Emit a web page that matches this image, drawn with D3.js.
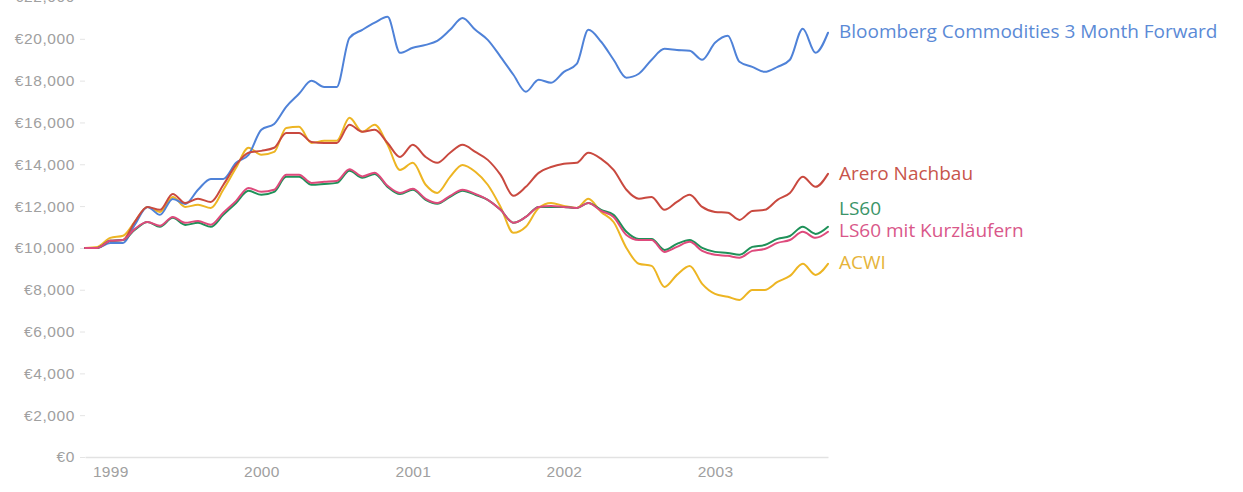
<!DOCTYPE html>
<html>
<head>
<meta charset="utf-8">
<script src="https://cdn.jsdelivr.net/npm/d3@7"></script>
<style>
  body { margin: 0; background: #fff; }
  svg { display: block; font-family: "Open Sans", "Inter", sans-serif; }
</style>
</head>
<body>
<svg id="chart" width="1243" height="492"></svg>
<script>
// monthly values, Nov 1998 .. Oct 2003
var startMonth = new Date(1998, 10, 1);
var monthCount = 60;

var bloomberg = [10000, 10000, 10240, 10240, 11100, 11960, 11580, 12345, 12100, 12780,
  13300, 13300, 14070, 14450, 15650, 15930, 16750, 17370, 17990, 17700,
  17700, 20050, 20430, 20770, 21050, 19330, 19570, 19710, 19900, 20430,
  21000, 20430, 19950, 19140, 18280, 17470, 18040, 17900, 18420, 18800,
  20430, 19860, 19000, 18140, 18330, 19000, 19520, 19470, 19430, 19000,
  19810, 20150, 18900, 18660, 18420, 18660, 19000, 20480, 19330, 20290];

var arero = [10000, 10000, 10340, 10380, 11240, 11960, 11820, 12580, 12150, 12350,
  12200, 13010, 13970, 14550, 14640, 14790, 15500, 15500, 15070, 15020,
  15020, 15890, 15550, 15650, 15020, 14350, 14930, 14350, 14070, 14550,
  14930, 14590, 14210, 13490, 12490, 12920, 13590, 13870, 14020, 14070,
  14550, 14260, 13730, 12780, 12350, 12440, 11820, 12200, 12540, 11960,
  11720, 11680, 11340, 11770, 11820, 12300, 12630, 13400, 12920, 13540];

var ls60 = [10000, 10000, 10340, 10380, 10860, 11240, 11010, 11440, 11100, 11200,
  11010, 11580, 12150, 12730, 12540, 12680, 13400, 13400, 13020, 13060,
  13110, 13690, 13350, 13540, 12920, 12580, 12780, 12300, 12110, 12440,
  12730, 12540, 12300, 11820, 11200, 11480, 11960, 11960, 11960, 11910,
  12150, 11820, 11580, 10770, 10430, 10430, 9900, 10190, 10380, 10000,
  9810, 9760, 9670, 10050, 10140, 10430, 10570, 11010, 10670, 11010];

var ls60kurz = [10000, 10000, 10340, 10380, 10900, 11240, 11060, 11480, 11200, 11290,
  11110, 11680, 12250, 12870, 12680, 12780, 13500, 13500, 13110, 13160,
  13200, 13760, 13420, 13600, 12970, 12630, 12830, 12350, 12150, 12490,
  12780, 12580, 12300, 11820, 11200, 11480, 11960, 12010, 11960, 11910,
  12150, 11770, 11480, 10620, 10380, 10380, 9810, 10050, 10290, 9860,
  9670, 9620, 9530, 9860, 9950, 10240, 10380, 10770, 10480, 10770];

var acwi = [10000, 10050, 10480, 10580, 11240, 11960, 11720, 12440, 11960, 12060,
  11910, 12780, 13830, 14790, 14450, 14590, 15740, 15790, 15020, 15120,
  15120, 16220, 15550, 15890, 14930, 13730, 14070, 13020, 12630, 13400,
  13970, 13640, 13020, 11960, 10720, 11010, 11910, 12150, 12010, 11910,
  12350, 11720, 11240, 10000, 9240, 9140, 8130, 8710, 9140, 8280,
  7800, 7660, 7510, 7990, 7990, 8370, 8660, 9240, 8710, 9240];

var seriesNames = ["Bloomberg Commodities 3 Month Forward", "Arero Nachbau", "LS60", "LS60 mit Kurzläufern", "ACWI"];
var seriesValues = [bloomberg, arero, ls60, ls60kurz, acwi];
var seriesColors = ["#4f82d8", "#c9493f", "#1f9159", "#de4a7c", "#edb523"];
var labelColors = ["#5b8ad6", "#c8554b", "#3a9468", "#d9578a", "#e6b43a"];

var yTicks = [0, 2000, 4000, 6000, 8000, 10000, 12000, 14000, 16000, 18000, 20000, 22000];
var xTickYears = [1999, 2000, 2001, 2002, 2003];

var dates = d3.range(monthCount).map(function(i) {
  return d3.timeMonth.offset(startMonth, i);
});

var svg = d3.select("#chart");

var x = d3.scaleTime()
  .domain([dates[0], dates[dates.length - 1]])
  .range([85, 828]);

var y = d3.scaleLinear()
  .domain([0, 22000])
  .range([457, -3]);

var euro = function(d) { return "€" + d3.format(",")(d); };

// y axis
var yAxis = svg.append("g")
  .attr("transform", "translate(85,0)")
  .call(d3.axisLeft(y).tickValues(yTicks).tickFormat(euro).tickSize(5).tickPadding(5));
yAxis.select(".domain").remove();
yAxis.selectAll(".tick line").attr("stroke", "#e4e4e4");
yAxis.selectAll(".tick text")
  .attr("fill", "#a0a0a0")
  .style("font-size", "15.5px")
  .style("letter-spacing", "0.6px");

// x axis
var xAxis = svg.append("g")
  .attr("transform", "translate(0,457)")
  .call(d3.axisBottom(x)
    .tickValues(xTickYears.map(function(yr) { return new Date(yr, 0, 1); }))
    .tickFormat(d3.timeFormat("%Y"))
    .tickSize(0)
    .tickPadding(9));
xAxis.select(".domain").attr("stroke", "#e2e2e2").attr("stroke-width", 1.5);
xAxis.selectAll(".tick text")
  .attr("fill", "#a0a0a0")
  .style("font-size", "15.5px")
  .style("letter-spacing", "0.3px");

var line = d3.line()
  .x(function(d, i) { return x(dates[i]); })
  .y(function(d) { return y(d); })
  .curve(d3.curveMonotoneX);

// draw ACWI first, Bloomberg last etc.
var drawOrder = [4, 0, 1, 2, 3];
drawOrder.forEach(function(k) {
  svg.append("path")
    .datum(seriesValues[k])
    .attr("fill", "none")
    .attr("stroke", seriesColors[k])
    .attr("stroke-width", 2)
    .attr("stroke-linejoin", "round")
    .attr("stroke-linecap", "round")
    .attr("d", line);
});

// end labels, pushed apart where they would overlap
var labels = seriesNames.map(function(name, k) {
  var vals = seriesValues[k];
  return { name: name, k: k, ly: y(vals[vals.length - 1]) };
});
labels.sort(function(a, b) { return b.ly - a.ly; });
for (var i = 1; i < labels.length; i++) {
  if (labels[i - 1].ly - labels[i].ly < 22) labels[i].ly = labels[i - 1].ly - 22;
}

svg.append("g").selectAll("text")
  .data(labels)
  .join("text")
  .attr("x", 839)
  .attr("y", function(d) { return d.ly - 1; })
  .attr("dy", "0.35em")
  .attr("fill", function(d) { return labelColors[d.k]; })
  .style("font-size", "19px")
  .text(function(d) { return d.name; });
</script>
</body>
</html>
